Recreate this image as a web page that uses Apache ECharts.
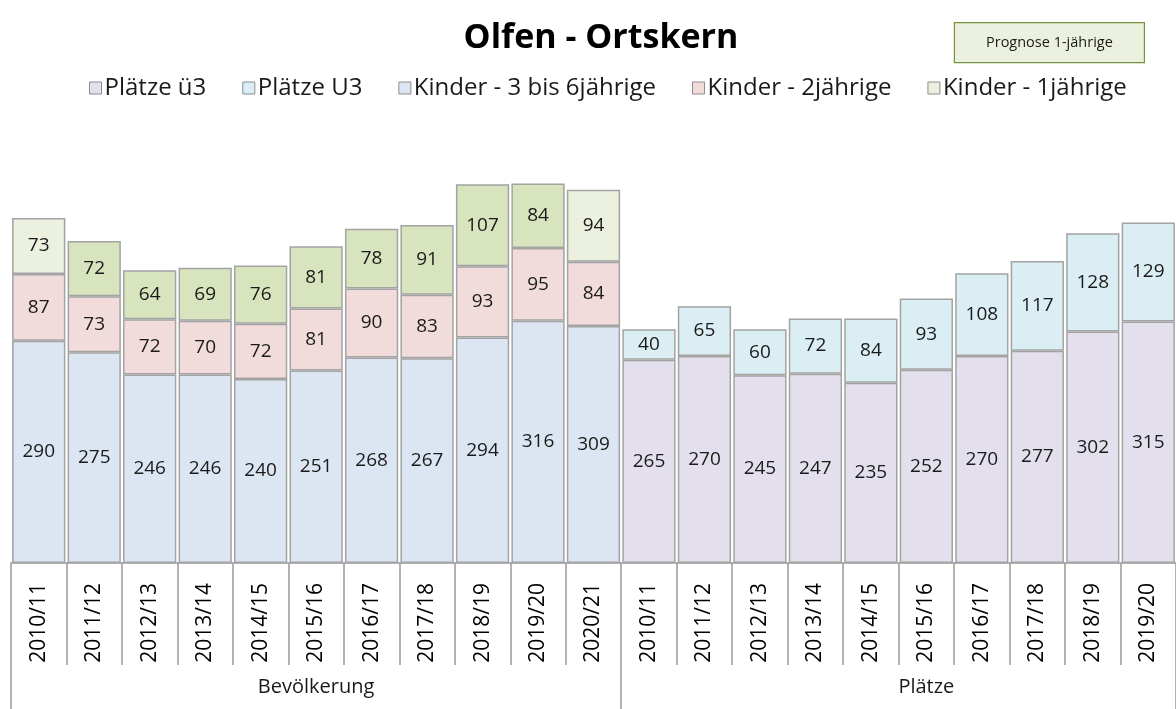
<!DOCTYPE html>
<html>
<head>
<meta charset="utf-8">
<script src="https://cdn.jsdelivr.net/npm/echarts@6/dist/echarts.min.js"></script>
<style>
html,body{margin:0;padding:0;background:#fff;}
#chart{width:1176px;height:709px;}
</style>
</head>
<body>
<div id="chart"></div>
<script>
// ---- data ----
const bevYears = ['2010/11','2011/12','2012/13','2013/14','2014/15','2015/16','2016/17','2017/18','2018/19','2019/20','2020/21'];
const platzYears = ['2010/11','2011/12','2012/13','2013/14','2014/15','2015/16','2016/17','2017/18','2018/19','2019/20'];
const groupNames = ['Bevölkerung','Plätze'];
const kinder36 = [290,275,246,246,240,251,268,267,294,316,309];
const kinder2  = [87,73,72,70,72,81,90,83,93,95,84];
const kinder1  = [73,72,64,69,76,81,78,91,107,84,94];
const prognoseYears = ['2011/12','2012/13','2013/14','2014/15','2015/16','2016/17','2017/18','2018/19','2019/20'];
const plaetzeUe3 = [265,270,245,247,235,252,270,277,302,315];
const plaetzeU3  = [40,65,60,72,84,93,108,117,128,129];

const categories = bevYears.concat(platzYears);
const nB = bevYears.length, nP = platzYears.length, nAll = categories.length;
const pad = (arr, before, after) => Array(before).fill('-').concat(arr, Array(after).fill('-'));

const FONT = '"Open Sans", sans-serif';
const C = {
  ue3:'#e4dfec', u3:'#daeef3', k36:'#dce6f2', k2:'#f2dcdb', k1:'#ebf1de', k1p:'#d7e4bd', border:'#a3a3a3'
};
const labelCfg = {show:true, position:'inside', fontFamily:FONT, fontSize:19, color:'#1a1a1a'};
const itemBase = c => ({color:c, borderColor:C.border, borderWidth:1.5});

const k1Data = kinder1.map((v,i) => ({
  value:v,
  itemStyle: prognoseYears.includes(bevYears[i]) ? {color:C.k1p} : undefined
})).concat(Array(nP).fill('-'));

const chart = echarts.init(document.getElementById('chart'), null, {renderer:'canvas'});
chart.setOption({
  animation:false,
  backgroundColor:'#fff',
  title:{text:'Olfen - Ortskern', left:596, textAlign:'center', top:16,
    textStyle:{fontFamily:FONT, fontWeight:'bold', fontSize:34, color:'#000'}},
  legend:{
    top:71, left:84,
    data:['Plätze ü3','Plätze U3','Kinder - 3 bis 6jährige','Kinder - 2jährige','Kinder - 1jährige'],
    icon:'rect', itemWidth:12, itemHeight:12, itemGap:36,
    textStyle:{fontFamily:FONT, fontSize:24, color:'#1a1a1a', padding:[0,0,0,-2]},
    itemStyle:{borderColor:'#8c8c8c', borderWidth:1}
  },
  grid:{left:11, right:-5, top:103, bottom:146, containLabel:false},
  xAxis:[{
    type:'category', data:categories, position:'bottom',
    axisLine:{show:true, lineStyle:{color:'#999', width:1.5}},
    axisTick:{show:true, interval:0, length:102, lineStyle:{color:'#999', width:1.5}},
    axisLabel:{interval:0, rotate:90, margin:20, fontFamily:FONT, fontSize:21, color:'#000'}
  },{
    type:'value', min:0, max:nAll, position:'bottom',
    axisLine:{show:false},
    splitLine:{show:false},
    axisTick:{show:true, length:146, customValues:[0, nB, nAll], lineStyle:{color:'#999', width:1.5}},
    axisLabel:{show:true, customValues:[nB/2, nB + nP/2 + 0.5], margin:114,
      fontFamily:FONT, fontSize:20, color:'#1a1a1a',
      formatter: v => (v < nB ? groupNames[0] : groupNames[1])}
  }],
  yAxis:{type:'value', min:0, max:600, show:false, splitLine:{show:false}},
  series:[
    {name:'Plätze ü3', type:'bar', stack:'s', barCategoryGap:'4%', data:pad(plaetzeUe3, nB, 0),
      itemStyle:itemBase(C.ue3), label:labelCfg},
    {name:'Plätze U3', type:'bar', stack:'s', data:pad(plaetzeU3, nB, 0),
      itemStyle:itemBase(C.u3), label:labelCfg},
    {name:'Kinder - 3 bis 6jährige', type:'bar', stack:'s', data:pad(kinder36, 0, nP),
      itemStyle:itemBase(C.k36), label:labelCfg},
    {name:'Kinder - 2jährige', type:'bar', stack:'s', data:pad(kinder2, 0, nP),
      itemStyle:itemBase(C.k2), label:labelCfg},
    {name:'Kinder - 1jährige', type:'bar', stack:'s', data:k1Data,
      itemStyle:itemBase(C.k1), label:labelCfg}
  ],
  graphic:[{
    type:'group', right:31, top:22,
    children:[
      {type:'rect', shape:{x:0,y:0,width:190,height:40}, style:{fill:C.k1, stroke:'#77933c', lineWidth:1.2}},
      {type:'text', x:95, y:20, style:{text:'Prognose 1-jährige', fontFamily:FONT, fontSize:14.5, fill:'#1a1a1a', align:'center', verticalAlign:'middle'}}
    ]
  }]
});
</script>
</body>
</html>
